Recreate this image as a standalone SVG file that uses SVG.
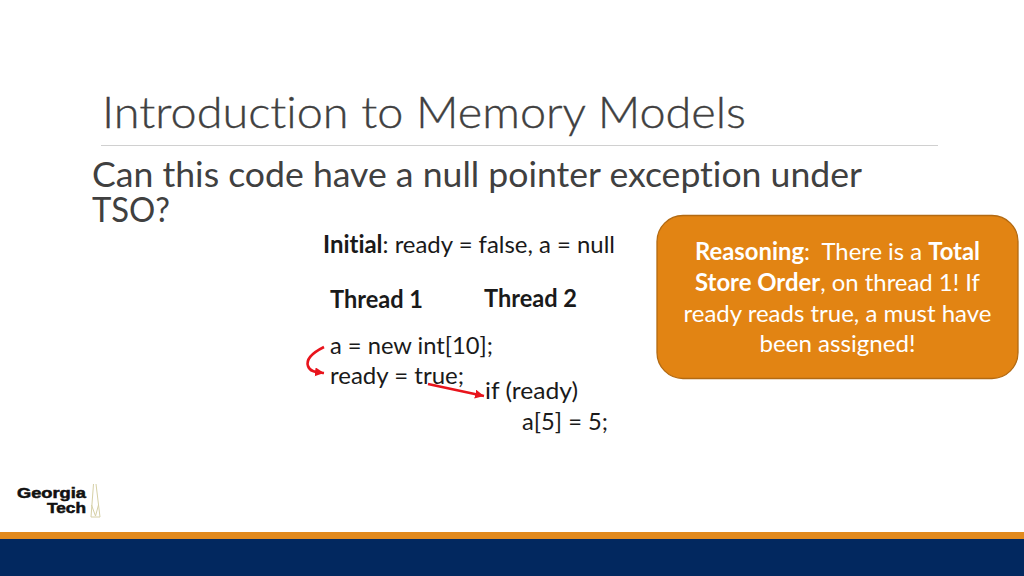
<svg xmlns="http://www.w3.org/2000/svg" width="1024" height="576" viewBox="0 0 1024 576">
<style>
text{font-family:Lato,"Open Sans","Liberation Sans",sans-serif;fill:#262626;font-variant-ligatures:none;white-space:pre}
.c{font-size:24px;fill:#1a1a1a}
.b{font-weight:700}
.w{font-size:24px;fill:#fff;text-anchor:middle}
.q{font-size:35px;fill:#404040}
.l{font-family:"Liberation Sans",sans-serif;font-size:14px;font-weight:700;text-anchor:end;fill:#111;stroke:#111;stroke-width:.5}
.conn{fill:none;stroke:#e8141c;stroke-width:2.600}
</style>
<defs>
<marker id="ah" markerUnits="userSpaceOnUse" markerWidth="11" markerHeight="11" refX="9" refY="4.500" orient="auto"><path d="M0 0L9 4.500L0 9z" fill="#e8141c"/></marker>
</defs>
<rect width="1024" height="576" fill="#fff"/>
<g id="title">
<text x="102" y="128" font-size="44" font-weight="300" textLength="644" lengthAdjust="spacingAndGlyphs" style="fill:#404040;stroke:#404040;stroke-width:.35">Introduction to Memory Models</text>
<line x1="101" y1="145.500" x2="938" y2="145.500" stroke="#d0d0d0" stroke-width="1.200"/>
</g>
<g id="question">
<text class="q" x="92" y="187" textLength="770" lengthAdjust="spacingAndGlyphs">Can this code have a null pointer exception under</text>
<text class="q" x="92" y="222" textLength="78" lengthAdjust="spacingAndGlyphs">TSO?</text>
</g>
<g id="initial">
<text class="c" x="323" y="253" textLength="292" lengthAdjust="spacingAndGlyphs"><tspan class="b">Initial</tspan>: ready = false, a = null</text>
</g>
<g id="thread1">
<text class="c b" x="330" y="308" textLength="93" lengthAdjust="spacingAndGlyphs">Thread 1</text>
<text class="c" x="330" y="354" textLength="163" lengthAdjust="spacingAndGlyphs">a = new int[10];</text>
<text class="c" x="330" y="384" textLength="134" lengthAdjust="spacingAndGlyphs">ready = true;</text>
</g>
<g id="thread2">
<text class="c b" x="484" y="307" textLength="93" lengthAdjust="spacingAndGlyphs">Thread 2</text>
<text class="c" x="485" y="399" textLength="93" lengthAdjust="spacingAndGlyphs">if (ready)</text>
<text class="c" x="522" y="430" textLength="86" lengthAdjust="spacingAndGlyphs">a[5] = 5;</text>
</g>
<g id="reasoning">
<rect x="657" y="215.500" width="361" height="163" rx="26" fill="#e28413" stroke="#b36a12" stroke-width="1.300"/>
<text class="w" x="837.500" y="260" textLength="285" lengthAdjust="spacingAndGlyphs"><tspan class="b">Reasoning</tspan>:  There is a <tspan class="b">Total</tspan></text>
<text class="w" x="837.500" y="291" textLength="285" lengthAdjust="spacingAndGlyphs"><tspan class="b">Store Order</tspan>, on thread 1! If</text>
<text class="w" x="837.500" y="322" textLength="308" lengthAdjust="spacingAndGlyphs">ready reads true, a must have</text>
<text class="w" x="837.500" y="352" textLength="156" lengthAdjust="spacingAndGlyphs">been assigned!</text>
</g>
<g id="connectors">
<path class="conn" d="M324 347C312 353 306 360 308 366C310 372 316 372 324 373" marker-end="url(#ah)"/>
<path class="conn" d="M428 384L484 396" marker-end="url(#ah)"/>
</g>
<g id="logo">
<text class="l" x="86" y="498" textLength="69" lengthAdjust="spacingAndGlyphs">Georgia</text>
<text class="l" x="86" y="513" textLength="39" lengthAdjust="spacingAndGlyphs">Tech</text>
<path d="M93.500 484L91 517H100L96 484M91.500 505L95.500 516L98.500 505" fill="none" stroke="#d6d0a6" stroke-width="1"/>
</g>
<g id="footer">
<rect y="532" width="1024" height="7" fill="#e28a1e"/>
<rect y="539" width="1024" height="37" fill="#02285f"/>
</g>
</svg>
